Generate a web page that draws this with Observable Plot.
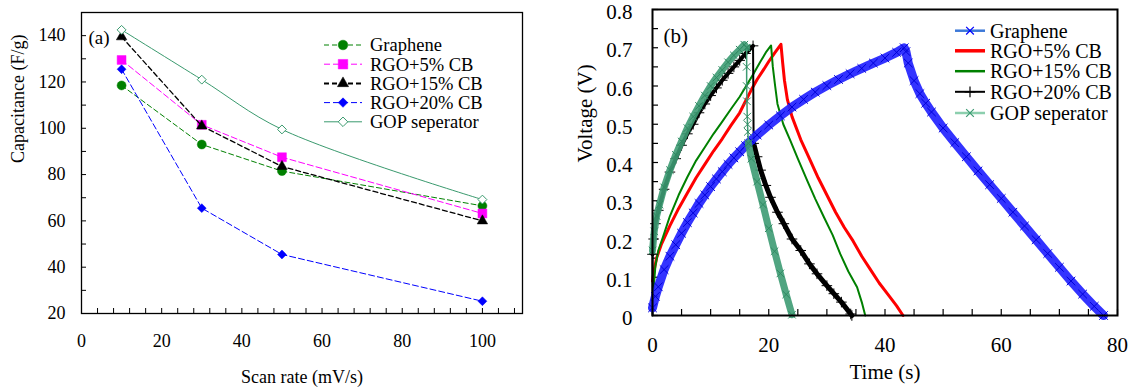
<!DOCTYPE html>
<html>
<head>
<meta charset="utf-8">
<script src="https://cdn.jsdelivr.net/npm/d3@7"></script>
<script src="https://cdn.jsdelivr.net/npm/@observablehq/plot@0.6"></script>
<style>
  body { margin: 0; background: #fff; }
  #fig { position: relative; width: 1134px; height: 388px; font-family: "Liberation Serif", "Times New Roman", serif; }
  #fig svg { position: absolute; top: 0; overflow: visible; }
</style>
</head>
<body>
<div id="fig"></div>
<script>
// ---------- (a) specific capacitance vs scan rate ----------
const scanRates = [10, 30, 50, 100];
const capNames = ["Graphene", "RGO+5% CB", "RGO+15% CB", "RGO+20% CB", "GOP seperator"];
const capGraphene = [118.5, 93, 81.5, 66.5];
const capRGO5 = [129.5, 101.5, 87.5, 63.2];
const capRGO15 = [139.5, 101, 83.5, 60];
const capRGO20 = [125.5, 65.5, 45.5, 25.3];
const capGOP = [142.5, 121, 99.5, 69.2];
const capValues = [capGraphene, capRGO5, capRGO15, capRGO20, capGOP];

// ---------- (b) galvanostatic charge / discharge, [time (s), voltage (V)] ----------
const gcdGraphene = [
  [0, 0.02], [0.5, 0.05], [1, 0.075], [2, 0.12], [3, 0.155], [4, 0.185], [5, 0.215], [6, 0.243],
  [7, 0.268], [8, 0.293], [9, 0.315], [10, 0.337], [11, 0.357], [12, 0.376], [13, 0.395], [14, 0.412],
  [15, 0.428], [16, 0.444], [17, 0.458], [18, 0.472], [20, 0.498], [22, 0.522], [24, 0.545], [26, 0.565],
  [28, 0.584], [30, 0.601], [32, 0.617], [34, 0.632], [36, 0.646], [38, 0.66], [40, 0.673], [42, 0.688],
  [43.3, 0.7], [43.6, 0.69], [44, 0.66], [45, 0.614], [46, 0.58], [47, 0.555], [48, 0.532], [50, 0.49],
  [52, 0.452], [54, 0.415], [56, 0.378], [58, 0.342], [60, 0.306], [62, 0.27], [64, 0.234], [66, 0.198],
  [68, 0.162], [70, 0.126], [72, 0.09], [74, 0.056], [76, 0.024], [77.6, 0]
];
const gcdRGO5 = [
  [0, 0.09], [0.3, 0.12], [0.7, 0.15], [1.5, 0.185], [3, 0.235], [4.5, 0.28], [6, 0.32], [7.5, 0.36],
  [9, 0.395], [10.5, 0.43], [12, 0.462], [13.5, 0.497], [15, 0.53], [16, 0.56], [17, 0.59], [18, 0.617],
  [19, 0.64], [20, 0.664], [21, 0.686], [22.1, 0.709], [22.4, 0.66], [22.7, 0.615], [23.2, 0.565],
  [24, 0.52], [25.5, 0.46], [27, 0.41], [28.5, 0.36], [30, 0.315], [31.5, 0.27], [33, 0.23], [34.5, 0.195],
  [36, 0.155], [37.5, 0.12], [39, 0.085], [40.5, 0.055], [42, 0.025], [43.1, 0]
];
const gcdRGO15 = [
  [0.2, 0.07], [0.5, 0.13], [1, 0.17], [1.8, 0.205], [3, 0.26], [4.5, 0.315], [6, 0.362], [7.5, 0.405],
  [9, 0.44], [10.5, 0.475], [12, 0.507], [13.5, 0.54], [15, 0.572], [16.5, 0.61], [17.5, 0.635],
  [18.5, 0.662], [19.6, 0.69], [20.4, 0.706], [20.7, 0.65], [21.1, 0.6], [21.5, 0.553], [22.5, 0.5],
  [23.7, 0.458], [25, 0.41], [26.6, 0.353], [28, 0.305], [29.5, 0.257], [31, 0.21], [32.3, 0.161],
  [33.7, 0.115], [35.2, 0.074], [36, 0.035], [36.6, 0]
];
const gcdRGO20Start = [[0, 0], [0, 0.16]];
const gcdRGO20Charge = [
  [0, 0.16], [0.2, 0.2], [0.5, 0.24], [1, 0.275], [2, 0.33], [3, 0.375], [4, 0.41], [5, 0.445], [6, 0.475],
  [7, 0.5], [8, 0.53], [9, 0.553], [10, 0.575], [11, 0.595], [12, 0.615], [13, 0.633], [14, 0.65],
  [15, 0.667], [16, 0.685], [17.3, 0.705]
];
const gcdRGO20Drop = [[17.3, 0.705], [17.4, 0.45]];
const gcdRGO20Discharge = [
  [17.4, 0.45], [18, 0.415], [18.6, 0.38], [19.5, 0.34], [20.3, 0.309], [21.5, 0.27], [22.6, 0.24],
  [24, 0.2], [25.5, 0.17], [27, 0.135], [28.3, 0.109], [30, 0.078], [31.2, 0.057], [32.5, 0.035],
  [34.1, 0.004], [34.3, 0]
];
const gcdGOPCharge = [
  [0, 0.17], [0.3, 0.22], [0.7, 0.26], [1.2, 0.29], [2, 0.335], [3, 0.38], [4, 0.42], [5, 0.455],
  [6, 0.49], [7, 0.52], [8, 0.548], [9, 0.575], [10, 0.6], [11, 0.622], [12, 0.642], [13, 0.662],
  [14, 0.68], [15, 0.695], [15.8, 0.708], [16.2, 0.7]
];
const gcdGOPDrop = [[16.2, 0.7], [16.2, 0.65], [16.2, 0.6], [16.25, 0.56], [16.3, 0.52], [16.35, 0.5], [16.4, 0.48], [16.5, 0.45]];
const gcdGOPDischarge = [
  [16.5, 0.45], [17, 0.41], [18, 0.35], [19, 0.29], [20, 0.228], [21, 0.168], [22, 0.11], [23, 0.055], [24, 0.002]
];
const gcdNames = ["Graphene", "RGO+5% CB", "RGO+15% CB", "RGO+20% CB", "GOP seperator"];

// ---------- styling ----------
const capStyle = {
  "Graphene":      {color: "#008000", symbol: "circle",   r: 4.5, dash: "5,3", width: 1},
  "RGO+5% CB":     {color: "#ff00ff", symbol: "square",   r: 5,   dash: "6,3", width: 1},
  "RGO+15% CB":    {color: "#000000", symbol: "triangle", r: 3.9, dash: "5,3", width: 1.3},
  "RGO+20% CB":    {color: "#0000ff", symbol: "diamond2", r: 4,   dash: "6,3", width: 1},
  "GOP seperator": {color: "#3a9a6e", symbol: "diamond2", r: 4,   dash: null,  width: 1, open: true}
};
const symbolOf = {circle: d3.symbolCircle, square: d3.symbolSquare, triangle: d3.symbolTriangle,
  diamond2: d3.symbolDiamond2, times: d3.symbolTimes, plus: d3.symbolPlus};
const serif = `"Liberation Serif", "Times New Roman", serif`;
const fig = document.getElementById("fig");

// ---------- panel (a) ----------
const capRows = capNames.flatMap((name, k) =>
  scanRates.map((rate, i) => ({series: name, rate, cap: capValues[k][i]})));

const capMarks = capNames.flatMap(name => {
  const s = capStyle[name];
  const rows = capRows.filter(d => d.series === name);
  return [
    Plot.line(rows, {x: "rate", y: "cap", stroke: s.color, strokeWidth: s.width,
      strokeDasharray: s.dash ?? undefined, curve: s.open ? "catmull-rom" : "linear"}),
    Plot.dot(rows, {x: "rate", y: "cap", symbol: () => s.symbol, r: s.r,
      fill: s.open ? "#fff" : s.color, stroke: s.color, strokeWidth: s.open ? 1 : 0.5})
  ];
});

const plotA = Plot.plot({
  width: 560, height: 388,
  marginLeft: 81, marginRight: 38, marginTop: 12, marginBottom: 75,
  x: {domain: [0, 110]},
  y: {domain: [20, 150]},
  symbol: {type: "identity"},
  style: {fontFamily: serif, fontSize: "18px", color: "#000", background: "transparent", overflow: "visible"},
  marks: [
    Plot.axisX(d3.range(0, 110, 4), {tickSize: -5, fill: "none", strokeWidth: 1}),
    Plot.axisX(d3.range(0, 101, 20), {tickSize: 0, tickPadding: 21, label: null, fontSize: 18}),
    Plot.axisY(d3.range(20, 151, 10), {tickSize: -5, fill: "none", strokeWidth: 1}),
    Plot.axisY(d3.range(20, 141, 20), {tickSize: 0, tickPadding: 16, label: null, fontSize: 18}),
    ...capMarks,
    Plot.frame({stroke: "#000", strokeWidth: 1.3}),
    Plot.text(["Scan rate (mV/s)"], {frameAnchor: "bottom", dy: 64, fontSize: 18, lineAnchor: "middle"}),
    Plot.text(["Capacitance (F/g)"], {frameAnchor: "left", dx: -63, rotate: -90, fontSize: 18, lineAnchor: "middle"}),
    Plot.text(["(a)"], {frameAnchor: "top-left", dx: 7, dy: 25, fontSize: 19, textAnchor: "start", lineAnchor: "middle"})
  ]
});
plotA.style.left = "0px";
fig.appendChild(plotA);

// legend (a)
{
  const g = d3.select(plotA).append("g")
    .attr("font-family", serif).attr("font-size", 18.5).attr("text-anchor", "start");
  capNames.forEach((name, i) => {
    const s = capStyle[name];
    const y = 45 + i * 19.2;
    g.append("line").attr("x1", 324).attr("x2", 362).attr("y1", y).attr("y2", y)
      .attr("stroke", s.color).attr("stroke-width", name === "RGO+15% CB" ? 2 : 1)
      .attr("stroke-dasharray", s.dash ?? null);
    g.append("path").attr("transform", `translate(343,${y})`)
      .attr("d", d3.symbol(symbolOf[s.symbol], Math.PI * s.r * s.r * 1.15)())
      .attr("fill", s.open ? "#fff" : s.color).attr("stroke", s.color).attr("stroke-width", s.open ? 1 : 0.5);
    g.append("text").attr("x", 370).attr("y", y).attr("dy", "0.35em")
      .attr("text-anchor", "start").text(name);
  });
}

// ---------- panel (b) ----------
const T = d => d[0], V = d => d[1];
const gopColor = "#3d9b73";
const plotB = Plot.plot({
  width: 574, height: 388,
  marginLeft: 92, marginRight: 17, marginTop: 9, marginBottom: 73,
  x: {domain: [0, 80]},
  y: {domain: [0, 0.8]},
  style: {fontFamily: serif, fontSize: "21px", color: "#000", background: "transparent", overflow: "visible"},
  marks: [
    Plot.axisX(d3.range(0, 81, 5), {tickSize: -6, fill: "none", strokeWidth: 1.2}),
    Plot.axisX([0, 20, 40, 60, 80], {tickSize: 0, tickPadding: 22, label: null, fontSize: 21}),
    Plot.axisY(d3.range(0, 16.5).map(i => i * 0.05), {tickSize: -6, fill: "none", strokeWidth: 1.2}),
    Plot.axisY(d3.range(0, 9).map(i => i / 10), {tickSize: 0, tickPadding: 20, dy: 3, label: null, fontSize: 21,
      tickFormat: d => d === 0 ? "0" : d.toFixed(1)}),

    // RGO+5% CB
    Plot.line(gcdRGO5, {x: T, y: V, stroke: "#ff0000", strokeWidth: 3}),
    // RGO+15% CB
    Plot.line(gcdRGO15, {x: T, y: V, stroke: "#008000", strokeWidth: 2}),
    // RGO+20% CB
    Plot.line(gcdRGO20Start, {x: T, y: V, stroke: "#000", strokeWidth: 2}),
    Plot.line(gcdRGO20Charge, {x: T, y: V, stroke: "#000", strokeWidth: 4}),
    Plot.line(gcdRGO20Drop, {x: T, y: V, stroke: "#000", strokeWidth: 2}),
    Plot.line(gcdRGO20Discharge, {x: T, y: V, stroke: "#000", strokeWidth: 5}),
    Plot.dot(gcdRGO20Charge.concat(gcdRGO20Discharge), {x: T, y: V, symbol: "plus", r: 3.5, stroke: "#000", strokeWidth: 1}),
    // Graphene
    Plot.line(gcdGraphene, {x: T, y: V, stroke: "#2222ff", strokeWidth: 9, strokeOpacity: 0.92}),
    Plot.dot(gcdGraphene, {x: T, y: V, symbol: "times", r: 4, stroke: "#0000d8", strokeWidth: 1}),
    // GOP seperator
    Plot.line(gcdGOPCharge, {x: T, y: V, stroke: gopColor, strokeWidth: 7, strokeOpacity: 0.9}),
    Plot.line(gcdGOPDrop, {x: T, y: V, stroke: gopColor, strokeWidth: 1.5}),
    Plot.line(gcdGOPDischarge, {x: T, y: V, stroke: gopColor, strokeWidth: 7, strokeOpacity: 0.9}),
    Plot.dot(gcdGOPCharge.concat(gcdGOPDrop, gcdGOPDischarge), {x: T, y: V, symbol: "times", r: 3.5, stroke: "#2f8a62", strokeWidth: 1}),

    Plot.frame({stroke: "#000", strokeWidth: 2}),
    Plot.text(["Time (s)"], {frameAnchor: "bottom", dy: 57, fontSize: 21, lineAnchor: "middle"}),
    Plot.text(["Voltage (V)"], {frameAnchor: "left", dx: -67, rotate: -90, fontSize: 21, lineAnchor: "middle"}),
    Plot.text(["(b)"], {frameAnchor: "top-left", dx: 11, dy: 27, fontSize: 21, textAnchor: "start", lineAnchor: "middle"})
  ]
});
plotB.style.left = "560px";
fig.appendChild(plotB);

// legend (b)
{
  const legendStyle = {
    "Graphene":      {line: "#3c78d8", width: 2.5, mark: "times", markColor: "#0000ff"},
    "RGO+5% CB":     {line: "#ff0000", width: 3.5},
    "RGO+15% CB":    {line: "#008000", width: 2.5},
    "RGO+20% CB":    {line: "#000000", width: 2, mark: "plus", markColor: "#000"},
    "GOP seperator": {line: "#8ccfae", width: 2.5, mark: "times", markColor: gopColor}
  };
  const rowY = [30.7, 50.8, 71.2, 91.8, 113];
  const g = d3.select(plotB).append("g")
    .attr("font-family", serif).attr("font-size", 20).attr("text-anchor", "start");
  gcdNames.forEach((name, i) => {
    const s = legendStyle[name];
    const y = rowY[i];
    g.append("line").attr("x1", 395).attr("x2", 425).attr("y1", y).attr("y2", y)
      .attr("stroke", s.line).attr("stroke-width", s.width);
    if (s.mark) {
      g.append("path").attr("transform", `translate(410,${y})`)
        .attr("d", d3.symbol(symbolOf[s.mark], 40)())
        .attr("fill", "none").attr("stroke", s.markColor).attr("stroke-width", 1.2);
    }
    g.append("text").attr("x", 430).attr("y", y).attr("dy", "0.35em")
      .attr("text-anchor", "start").text(name);
  });
}
</script>
</body>
</html>
